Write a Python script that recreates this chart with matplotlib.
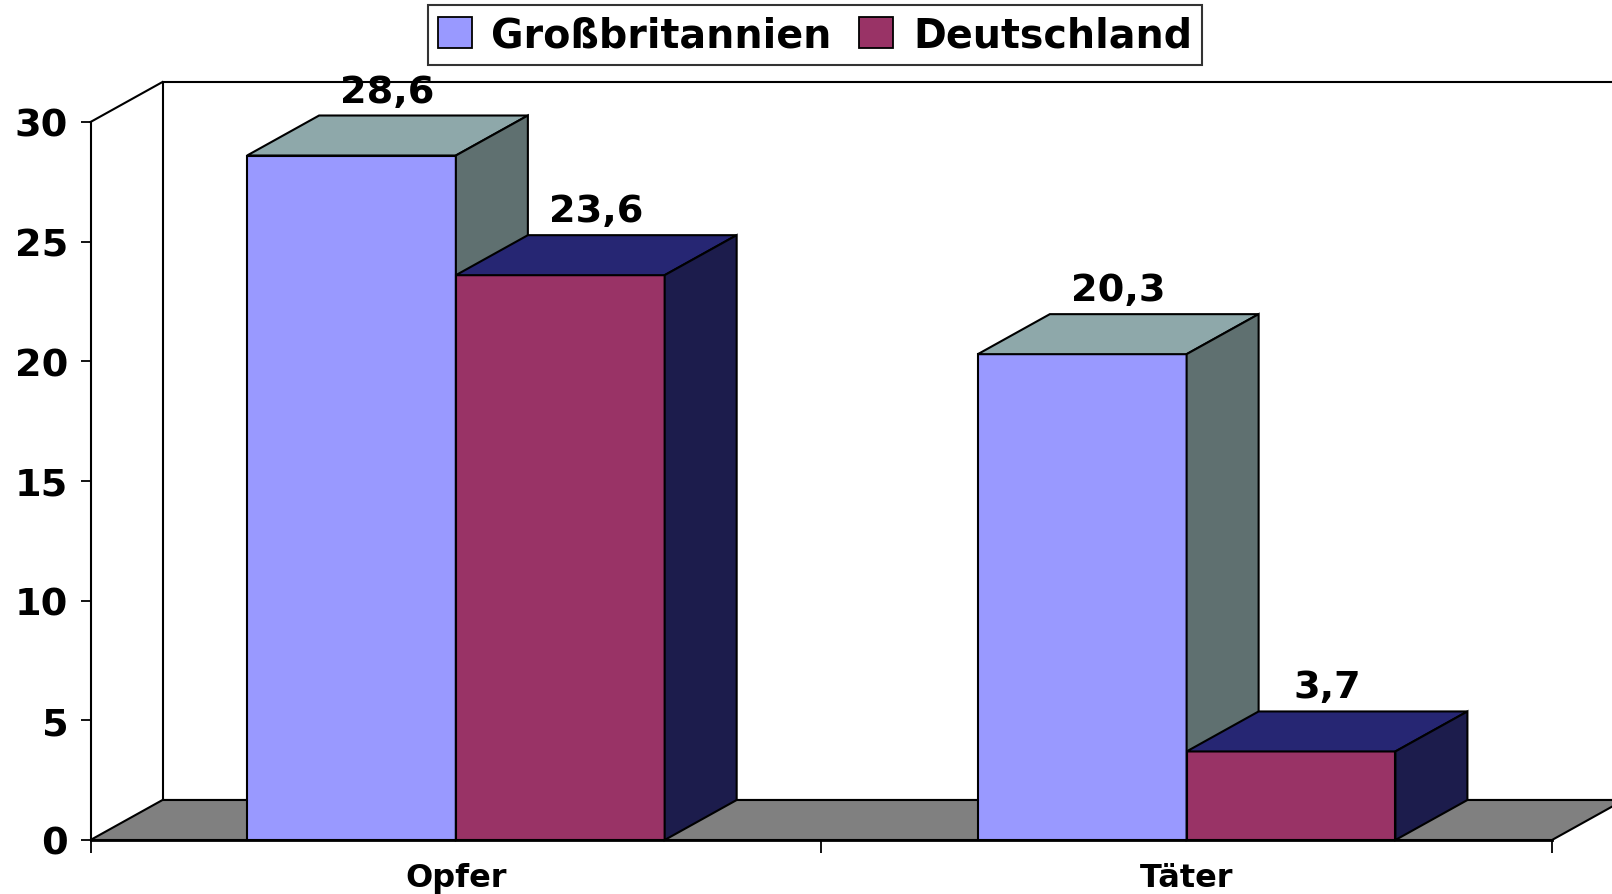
"""
3D-look clustered bar chart (Excel style): Opfer / Täter, GB vs. DE.
"""

import matplotlib.pyplot as plt
from matplotlib.patches import Polygon, Patch

# wide bold face, close to the stretched Arial of the original
plt.rcParams["font.family"] = ["DejaVu Sans"]
plt.rcParams["font.weight"] = "bold"

# --- data -------------------------------------------------------------------
categories = ["Opfer", "Täter"]
series_names = ["Großbritannien", "Deutschland"]
gb_values = [28.6, 20.3]
de_values = [23.6, 3.7]
value_labels_gb = ["28,6", "20,3"]
value_labels_de = ["23,6", "3,7"]
y_ticks = [0, 5, 10, 15, 20, 25, 30]

# face colours: front, top, side
colors = {
    "Großbritannien": ("#9999FF", "#8EA8AA", "#5F7070"),
    "Deutschland": ("#993366", "#262673", "#1C1C4C"),
}

# --- figure / axes ----------------------------------------------------------
W, H = 1612, 895
fig = plt.figure(figsize=(W / 100, H / 100), dpi=100)
ax_left, ax_bottom = 90.5 / W, (H - 841) / H
ax_w, ax_h = 1461.5 / W, 718 / H
ax = fig.add_axes([ax_left, ax_bottom, ax_w, ax_h])
ax.set_xlim(0, len(categories))
ax.set_ylim(0, 30)

# depth offset of the 3D look, given in pixels, converted to data units
depth_px_x, depth_px_y = 72, 40
dx = depth_px_x / (ax_w * W / len(categories))
dy = depth_px_y / (ax_h * H / 30)

edge = dict(edgecolor="black", linewidth=1.5, clip_on=False)
nx = len(categories)

# floor and back wall
ax.add_patch(Polygon([(0, 0), (nx, 0), (nx + dx, dy), (dx, dy)],
                     facecolor="#808080", zorder=1, **edge))
ax.add_patch(Polygon([(dx, dy), (nx + dx, dy), (nx + dx, 30 + dy), (dx, 30 + dy)],
                     facecolor="white", zorder=0.5, **edge))
ax.plot([0, dx], [30, 30 + dy], color="black", lw=1.5, clip_on=False, zorder=1)

# --- bars -------------------------------------------------------------------
bar_w = 1 / 3.5   # gap width 150%
z = 2
for i, cat in enumerate(categories):
    c = i + 0.5
    for j, (name, vals, labs) in enumerate(
            [(series_names[0], gb_values, value_labels_gb),
             (series_names[1], de_values, value_labels_de)]):
        v = vals[i]
        x0 = c - bar_w + j * bar_w
        x1 = x0 + bar_w
        front, top, side = colors[name]
        ax.add_patch(Polygon([(x0, 0), (x1, 0), (x1, v), (x0, v)],
                             facecolor=front, zorder=z, **edge))
        ax.add_patch(Polygon([(x0, v), (x1, v), (x1 + dx, v + dy), (x0 + dx, v + dy)],
                             facecolor=top, zorder=z, **edge))
        ax.add_patch(Polygon([(x1, 0), (x1 + dx, dy), (x1 + dx, v + dy), (x1, v)],
                             facecolor=side, zorder=z, **edge))
        # label sits above the top face, but not above the back wall's top edge
        ly = min(v + dy + 0.25, 30 + dy - 1.1)
        ax.text((x0 + x1) / 2 + dx / 2, ly, labs[i],
                ha="center", va="bottom", fontsize=27.5, fontweight="bold",
                zorder=10)
        z += 1

# --- axes styling -----------------------------------------------------------
for s in ["top", "right"]:
    ax.spines[s].set_visible(False)
ax.spines["left"].set_linewidth(1.5)
ax.spines["bottom"].set_linewidth(2)
ax.spines["left"].set_zorder(20)
ax.spines["bottom"].set_zorder(20)
ax.patch.set_visible(False)

ax.set_yticks(y_ticks)
ax.set_yticklabels([str(t) for t in y_ticks], fontsize=27.5, fontweight="bold")
ax.tick_params(axis="y", length=7, width=1.3, pad=9)

ax.set_xticks(range(nx + 1))
ax.set_xticklabels([""] * (nx + 1))
ax.tick_params(axis="x", which="major", length=9, width=1.3)
ax.set_xticks([i + 0.5 for i in range(nx)], minor=True)
ax.set_xticklabels(categories, minor=True, fontsize=23, fontweight="bold")
ax.tick_params(axis="x", which="minor", length=0, pad=16)

# --- legend -----------------------------------------------------------------
handles = [Patch(facecolor=colors[n][0], edgecolor="black", linewidth=1.3)
           for n in series_names]
leg = fig.legend(handles, series_names, loc="center",
                 bbox_to_anchor=(815 / W, 1 - 36 / H), ncol=2,
                 frameon=True, fancybox=False,
                 prop={"weight": "bold", "size": 28.5},
                 handlelength=0.85, handleheight=0.85, handletextpad=0.5,
                 columnspacing=0.7, borderpad=0.25, borderaxespad=0)
leg.get_frame().set_edgecolor("black")
leg.get_frame().set_linewidth(1.5)

fig.savefig("out.png", dpi=100)
